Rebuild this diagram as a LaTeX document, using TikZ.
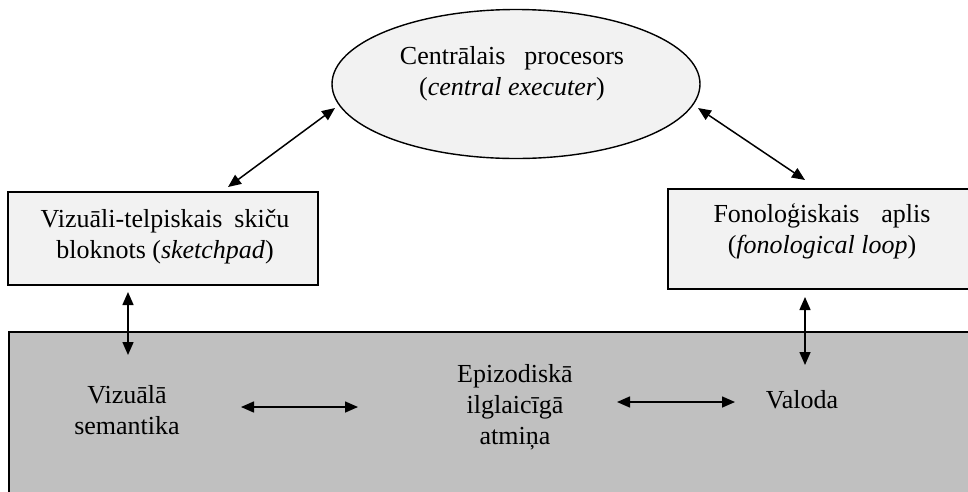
\documentclass[tikz,border=0pt]{standalone}
\usepackage{fontspec}
\setmainfont{Liberation Serif}
\usetikzlibrary{shapes.geometric,arrows.meta}
\definecolor{boxfill}{HTML}{F2F2F2}
\definecolor{memfill}{HTML}{C0C0C0}
\tikzset{
  panel/.style={draw=black, line width=1.5pt, fill=boxfill, rectangle, anchor=north west, inner sep=0pt, outer sep=0pt},
  hub/.style={draw=black, line width=1.4pt, fill=boxfill, ellipse, inner sep=0pt, outer sep=0pt},
  memory/.style={draw=black, line width=1.5pt, fill=memfill, rectangle, anchor=north west, inner sep=0pt, outer sep=0pt},
  label/.style={align=center, inner sep=0pt, font=\fontsize{26}{31}\selectfont},
  link/.style={line width=1.5pt, {Triangle[length=13pt,width=11pt]}-{Triangle[length=13pt,width=11pt]}},
}
\begin{document}
\begin{tikzpicture}[x=1pt, y=-1pt]
  \useasboundingbox (0,0) rectangle (968,491);
  \clip (0,0) rectangle (968,491);

  % long-term memory layer
  \node[memory, minimum width=980pt, minimum height=180pt] (ltm) at (9,332) {};

  % central executive
  \node[hub, minimum width=368pt, minimum height=149pt] (cp) at (516,84) {};
  \node[label] (cptext) at (512,74) {Centrālais\hspace{19pt}procesors\\(\textit{central executer})};

  % slave systems
  \node[panel, minimum width=310pt, minimum height=93pt] (lbox) at (8,192) {};
  \node[label] (ltext) at (165,237) {Vizuāli-telpiskais\hspace{12pt}skiču\\bloknots (\textit{sketchpad})};

  \node[panel, minimum width=310pt, minimum height=100pt] (rbox) at (668,189) {};
  \node[label] (rtext) at (822,231) {Fonoloģiskais\hspace{22pt}aplis\\(\textit{fonological loop})};

  % contents of the long-term memory
  \node[label] (vis) at (127,410) {Vizuālā\\semantika};
  \node[label] (epi) at (515,407) {Epizodiskā\\ilglaicīgā\\atmiņa};
  \node[label] (val) at (802,400) {Valoda};

  % connections
  \draw[link] ([shift={(65,-5)}]lbox.north) -- ([shift={(-181,24)}]cp.center);
  \draw[link] ([shift={(-18,-9)}]rbox.north) -- ([shift={(182,24)}]cp.center);
  \draw[link] ([shift={(-35,7)}]lbox.south) -- ([shift={(119,23)}]ltm.north west);
  \draw[link] ([shift={(-18,8)}]rbox.south) -- ([shift={(796,33)}]ltm.north west);
  \draw[link] ([shift={(114,-3)}]vis.center) -- ([shift={(-157,0)}]epi.center);
  \draw[link] ([shift={(102,-5)}]epi.center) -- ([shift={(-67,2)}]val.center);
\end{tikzpicture}
\end{document}
